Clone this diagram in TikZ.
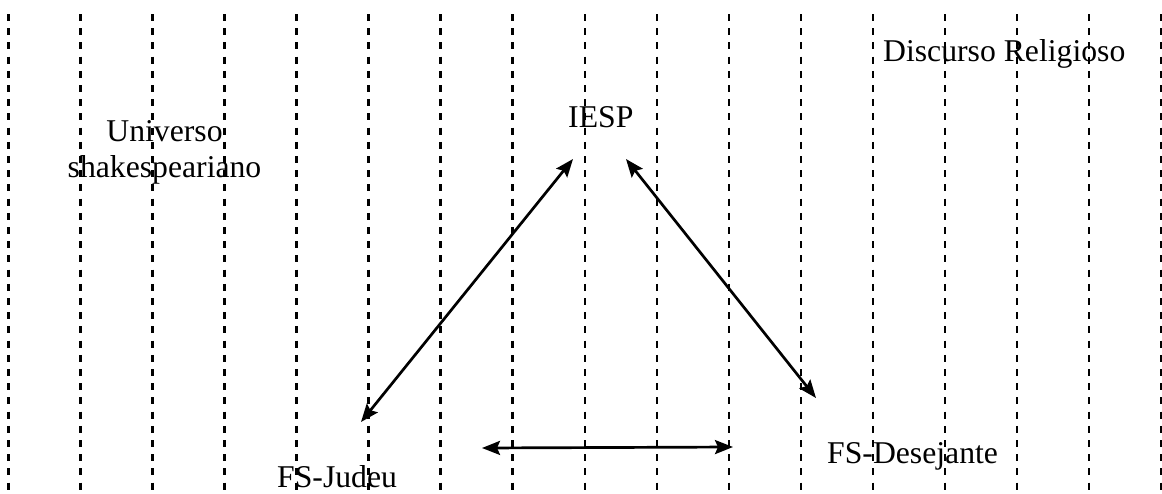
\documentclass[tikz,border=0pt]{standalone}
\usepackage{fontspec}
\setmainfont{Liberation Serif}
\usetikzlibrary{arrows.meta}
\begin{document}
\begin{tikzpicture}[x=1pt,y=-1pt,
  guide/.style={line width=2.4pt,dash pattern=on 7pt off 7.2pt},
  lbl/.style={font=\fontsize{31.7}{36}\selectfont,inner sep=0pt,anchor=base west},
  conn/.style={line width=2.7pt,{Stealth[length=18pt,width=14pt,inset=3pt]}-{Stealth[length=18pt,width=14pt,inset=3pt]}}]
\useasboundingbox[fill=white] (0,0) rectangle (1162,493);
% dashed vertical guides
\foreach \i in {0,...,16}{
  \draw[guide] ({8.3+72.05*\i},14) -- ({8.3+72.05*\i},493);
}
% labels
\node[lbl] (discurso) at (883,61) {Discurso Religioso};
\node[lbl] (iesp) at (568,127) {IESP};
\node[font=\fontsize{31.7}{36}\selectfont,inner sep=0pt,align=center,anchor=base] (universo) at (164.5,177) {Universo\\shakespeariano};
\node[lbl] (judeu) at (277,487) {FS-Judeu};
\node[lbl] (desejante) at (827,463) {FS-Desejante};
% connector end points
\coordinate (a1) at (573,159);
\coordinate (a2) at (361,422);
\coordinate (b1) at (626,159);
\coordinate (b2) at (816,398);
\coordinate (c1) at (482,448);
\coordinate (c2) at (733,447);
\draw[conn] (a1) -- (a2);
\draw[conn] (b1) -- (b2);
\draw[conn] (c1) -- (c2);
\end{tikzpicture}
\end{document}
